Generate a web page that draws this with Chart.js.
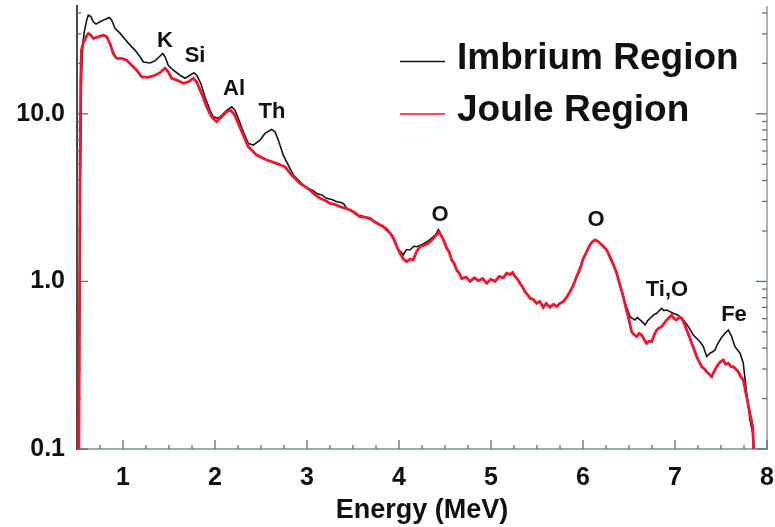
<!DOCTYPE html>
<html><head><meta charset="utf-8">
<script src="https://cdn.jsdelivr.net/npm/chart.js@4.4.1/dist/chart.umd.min.js"></script>
<style>html,body{margin:0;padding:0;background:#fff;}#wrap{width:775px;height:527px;}</style>
</head><body><div id="wrap"><canvas id="c" width="775" height="527"></canvas></div>
<script>
// ---- DATA ----
const seriesNames = ['Imbrium Region', 'Joule Region'];

// Imbrium, low-energy part (MeV, counts)
const imbriumLowE = [
  0.52,0.535,0.55,0.565,0.58,0.605,0.623,0.649,0.677,0.707,
  0.75,0.804,0.851,0.877,0.913,0.967,1.022,1.076,1.13,1.185,
  1.221,1.293,1.348,1.395,1.432,1.457,1.492,1.547,1.62,1.674,
  1.728,1.772,1.801,1.845,1.891,1.946,1.982,2.036,2.073,2.127,
  2.182,2.217,2.253,2.308,2.362,2.416,2.489,2.543,2.616,2.652,
  2.688,2.742,2.797,2.851,2.924,2.97,3.014,3.06,3.105,3.16,
  3.214,3.27,3.323,3.37,3.40,3.432,3.49,3.54,3.60,3.649,
  3.70,3.758,3.81,3.866,3.938,3.992,4.02,4.047,4.08,4.12,
  4.16,4.192,4.25,4.301,4.34,4.373,4.40,4.427
];
const imbriumLowCounts = [
  0.09,4,18,27,31,36.2,38.8,38.2,35.4,34.3,
  35.4,36.6,37.6,36.2,32.4,30.3,27.9,25.7,24.0,21.9,
  20.4,20.1,20.7,21.9,22.9,21.9,19.5,18.2,17.0,16.3,
  17.0,17.6,17.0,15.2,12.6,10.5,9.6,9.4,9.8,10.5,
  11.0,10.5,9.4,7.8,6.66,6.51,6.97,7.64,8.07,7.81,
  6.97,5.67,4.94,4.31,3.93,3.70,3.59,3.50,3.35,3.28,
  3.13,3.08,2.99,2.96,2.90,2.73,2.62,2.49,2.46,2.38,
  2.33,2.22,2.16,2.07,1.85,1.54,1.50,1.44,1.55,1.54,
  1.62,1.61,1.66,1.72,1.78,1.85,1.90,2.03
];

// Joule, low-energy part
const jouleLowE = [
  0.52,0.532,0.54,0.548,0.568,0.598,0.623,0.649,0.677,0.732,
  0.786,0.823,0.859,0.895,0.931,0.986,1.04,1.094,1.149,1.203,
  1.275,1.348,1.402,1.457,1.492,1.529,1.584,1.656,1.71,1.764,
  1.801,1.855,1.91,1.964,2.018,2.073,2.127,2.171,2.217,2.253,
  2.308,2.362,2.453,2.562,2.67,2.761,2.833,2.924,2.98,3.033,
  3.09,3.142,3.20,3.25,3.30,3.359,3.41,3.468,3.52,3.576,
  3.63,3.685,3.74,3.794,3.83,3.866,3.90,3.938,3.975,4.011,
  4.05,4.083,4.12,4.155,4.19,4.228,4.27,4.318,4.355,4.391,
  4.437
];
const jouleLowCounts = [
  0.09,3,15,24,26.4,28.8,30.2,29.5,28.2,28.8,
  29.5,28.8,26.3,22.9,21.4,21.4,20.9,19.5,18.2,16.6,
  16.5,17.0,17.6,18.7,17.8,16.3,15.9,15.2,15.5,16.3,
  15.5,13.2,11.0,9.6,8.96,9.6,10.3,10.5,9.8,8.76,
  7.46,6.36,5.67,5.30,5.06,4.83,4.31,3.85,3.68,3.51,
  3.28,3.13,3.04,2.92,2.88,2.79,2.74,2.67,2.57,2.43,
  2.42,2.38,2.26,2.17,2.12,2.03,1.95,1.81,1.62,1.47,
  1.36,1.31,1.36,1.34,1.50,1.61,1.64,1.69,1.76,1.85,
  1.98
];

// Middle part where both spectra coincide
const sharedE = [
  4.464,4.49,4.518,4.545,4.573,4.60,4.627,4.655,4.682,4.73,
  4.772,4.82,4.862,4.91,4.953,5.00,5.043,5.09,5.134,5.17,
  5.207,5.235,5.261,5.29,5.315,5.34,5.37,5.40,5.424,5.46,
  5.497,5.53,5.568,5.60,5.641,5.68,5.714,5.75,5.786,5.82,
  5.859,5.895,5.932,5.97,6.003,6.04,6.076,6.10,6.13,6.16,
  6.185,6.22,6.258,6.293,6.33,6.366,6.40,6.438
];
const sharedCounts = [
  1.85,1.74,1.58,1.50,1.34,1.28,1.17,1.12,1.04,1.06,
  1.00,1.05,1.01,1.04,0.974,1.03,1.00,1.07,1.05,1.12,
  1.10,1.13,1.07,1.03,0.974,0.93,0.868,0.83,0.793,0.78,
  0.74,0.76,0.70,0.74,0.70,0.73,0.707,0.74,0.757,0.80,
  0.868,0.95,1.07,1.20,1.37,1.50,1.65,1.72,1.77,1.74,
  1.69,1.62,1.54,1.40,1.26,1.12,0.96,0.811
];

// Imbrium, high-energy part
const imbriumHighE = [
  6.475,6.511,6.54,6.565,6.59,6.62,6.65,6.674,6.70,6.728,
  6.765,6.801,6.83,6.855,6.88,6.91,6.945,6.982,7.03,7.073,
  7.11,7.145,7.17,7.199,7.23,7.254,7.28,7.308,7.345,7.38,
  7.41,7.435,7.46,7.489,7.515,7.543,7.58,7.616,7.652,7.68,
  7.707,7.742,7.779,7.815,7.845,7.859
];
const imbriumHighCounts = [
  0.70,0.616,0.60,0.589,0.61,0.589,0.57,0.55,0.58,0.603,
  0.63,0.645,0.67,0.691,0.67,0.675,0.66,0.645,0.63,0.603,
  0.57,0.537,0.51,0.479,0.46,0.447,0.43,0.408,0.356,0.373,
  0.38,0.39,0.42,0.447,0.47,0.49,0.513,0.468,0.408,0.39,
  0.373,0.325,0.215,0.149,0.124,0.09
];

// Joule, high-energy part
const jouleHighE = [
  6.465,6.492,6.529,6.555,6.584,6.61,6.638,6.665,6.692,6.72,
  6.747,6.775,6.801,6.83,6.855,6.88,6.91,6.94,6.964,6.99,
  7.018,7.045,7.073,7.10,7.127,7.155,7.182,7.21,7.236,7.265,
  7.29,7.32,7.345,7.37,7.399,7.425,7.453,7.49,7.525,7.55,
  7.58,7.61,7.634,7.66,7.688,7.715,7.742,7.779,7.815,7.845,
  7.859
];
const jouleHighCounts = [
  0.70,0.616,0.501,0.48,0.468,0.49,0.479,0.45,0.427,0.44,
  0.437,0.48,0.513,0.53,0.537,0.56,0.589,0.61,0.630,0.60,
  0.589,0.61,0.603,0.56,0.513,0.47,0.427,0.39,0.356,0.33,
  0.310,0.30,0.289,0.28,0.270,0.29,0.310,0.33,0.340,0.32,
  0.325,0.31,0.310,0.30,0.289,0.27,0.258,0.205,0.163,0.136,
  0.09
];

const xMajorTicks = [1,2,3,4,5,6,7,8];
const xMinorTicks = [0.75,1.25,1.5,1.75,2.25,2.5,2.75,3.25,3.5,3.75,4.25,4.5,4.75,5.25,5.5,5.75,6.25,6.5,6.75,7.25,7.5,7.75];
const yMajorTicks = [0.1,1,10];
const yTickLabels = ['0.1','1.0','10.0'];
const yMinorTicks = [0.2,0.3,0.4,0.5,0.6,0.7,0.8,0.9,2,3,4,5,6,7,8,9,20,30,40];

const peakNames = ['K','Si','Al','Th','O','O','Ti,O','Fe'];
const peakE = [1.457,1.783,2.207,2.62,4.446,6.141,6.913,7.641];
const peakCounts = [27.1,22.3,14.0,10.2,2.49,2.32,0.889,0.63];

// ---- CHART ----
const FONT = "'Liberation Sans', Arial, Helvetica, sans-serif";
const toPts = (xs, ys) => xs.map((x, i) => ({x, y: ys[i]}));
const imbriumPts = toPts(imbriumLowE, imbriumLowCounts).concat(toPts(sharedE, sharedCounts), toPts(imbriumHighE, imbriumHighCounts));
const joulePts = toPts(jouleLowE, jouleLowCounts).concat(toPts(sharedE, sharedCounts), toPts(jouleHighE, jouleHighCounts));

const decor = {
  id: 'decor',
  beforeDatasetsDraw(chart) {
    const {ctx, chartArea: {left, right, top, bottom}, scales: {x, y}} = chart;
    ctx.save();
    ctx.strokeStyle = '#8c9c9c'; ctx.lineWidth = 1.5;
    ctx.beginPath(); ctx.moveTo(right, top); ctx.lineTo(right, bottom); ctx.stroke();
    ctx.strokeStyle = '#5f6f6f'; ctx.lineWidth = 1.3;
    const seg = (x1, y1, x2, y2) => { ctx.beginPath(); ctx.moveTo(x1, y1); ctx.lineTo(x2, y2); ctx.stroke(); };
    xMajorTicks.forEach(v => { const p = x.getPixelForValue(v); seg(p, bottom, p, bottom - 9); });
    xMinorTicks.forEach(v => { const p = x.getPixelForValue(v); seg(p, bottom, p, bottom - 4); });
    yMajorTicks.forEach(v => { const p = y.getPixelForValue(v); seg(left, p, left + 11, p); seg(right, p, right - 11, p); });
    yMinorTicks.forEach(v => { const p = y.getPixelForValue(v); seg(left, p, left + 4, p); seg(right, p, right - 5, p); });
    ctx.restore();
  },
  afterDraw(chart) {
    const {ctx, scales: {x, y}} = chart;
    ctx.save();
    ctx.fillStyle = '#111';
    ctx.textAlign = 'center'; ctx.textBaseline = 'middle';
    ctx.font = 'bold 22px ' + FONT;
    peakNames.forEach((n, i) => ctx.fillText(n, x.getPixelForValue(peakE[i]), y.getPixelForValue(peakCounts[i])));
    const ds = chart.data.datasets;
    const rows = [{y: 61.5, ty: 58.5}, {y: 114, ty: 110.5}];
    ctx.textAlign = 'left';
    ctx.font = 'bold 37px ' + FONT;
    ds.forEach((d, i) => {
      ctx.strokeStyle = d.borderColor; ctx.lineWidth = 1.6;
      ctx.beginPath(); ctx.moveTo(400, rows[i].y); ctx.lineTo(445, rows[i].y); ctx.stroke();
      ctx.fillStyle = '#111';
      ctx.fillText(d.label, 457, rows[i].ty);
    });
    ctx.restore();
  }
};

new Chart(document.getElementById('c'), {
  type: 'line',
  data: {
    datasets: [
      {label: seriesNames[0], data: imbriumPts, borderColor: '#141414', borderWidth: 1.6, pointRadius: 0, tension: 0, order: 2},
      {label: seriesNames[1], data: joulePts, borderColor: '#f4142e', borderWidth: 2.8, pointRadius: 0, tension: 0, order: 1}
    ]
  },
  options: {
    responsive: false, animation: false, devicePixelRatio: 1,
    layout: {padding: {left: 0, right: 8, top: 6, bottom: 0}},
    plugins: {legend: {display: false}, tooltip: {enabled: false}},
    scales: {
      x: {
        type: 'linear', min: 0.5, max: 8,
        afterBuildTicks: s => { s.ticks = xMajorTicks.map(v => ({value: v})); },
        afterFit: s => { s.height = 78; s.paddingLeft = 0; s.paddingRight = 0; s.paddingTop = 0; s.paddingBottom = 0; },
        grid: {display: false},
        border: {display: true, color: '#9aabab', width: 2},
        ticks: {color: '#111', font: {family: FONT, size: 25, weight: 'bold'}, padding: 6, maxRotation: 0, autoSkip: false, callback: v => String(v)},
        title: {display: true, text: 'Energy (MeV)', color: '#111', font: {family: FONT, size: 27, weight: 'bold'}, padding: {top: 0, bottom: 0}}
      },
      y: {
        type: 'logarithmic', min: 0.1, max: 44,
        afterBuildTicks: s => { s.ticks = yMajorTicks.map(v => ({value: v})); },
        afterFit: s => { s.width = 77; s.paddingLeft = 0; s.paddingRight = 0; s.paddingTop = 0; s.paddingBottom = 0; },
        grid: {display: false},
        border: {display: true, color: '#4a4a4a', width: 2},
        ticks: {color: '#111', font: {family: FONT, size: 25, weight: 'bold'}, padding: 4, callback: (v, i) => yTickLabels[i]}
      }
    }
  },
  plugins: [decor]
});
</script></body></html>
